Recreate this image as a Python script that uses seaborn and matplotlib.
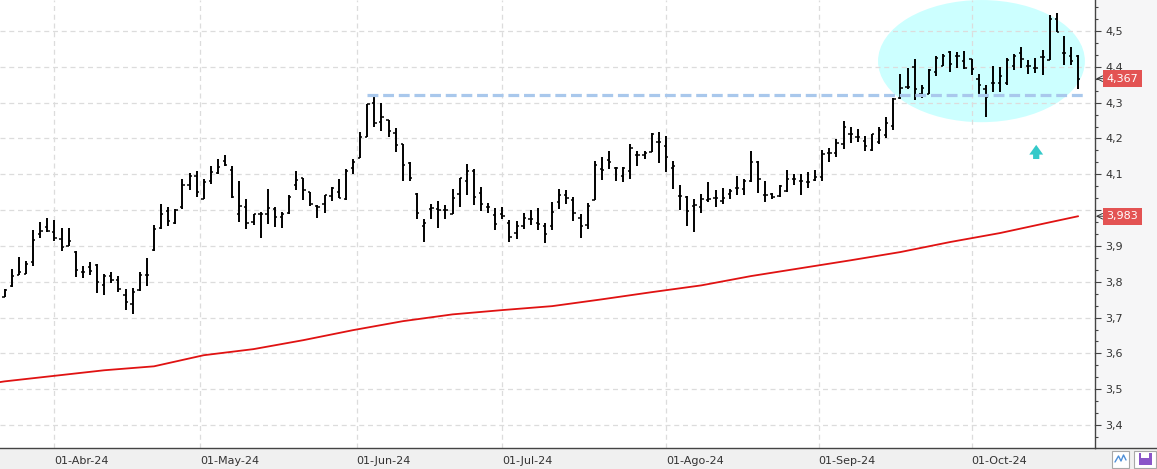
import numpy as np
import pandas as pd
import seaborn as sns
import matplotlib
matplotlib.use('Agg')
import matplotlib.pyplot as plt
from matplotlib.patches import Ellipse, Rectangle
from matplotlib.lines import Line2D
from matplotlib.ticker import MultipleLocator, AutoMinorLocator, FuncFormatter

# daily OHLC, one bar per trading day (late Mar 2024 -> 22 Oct 2024)
opens = [3.758, 3.788, 3.820, 3.822, 3.855, 3.932, 3.953, 3.939, 3.920, 3.900,
         3.884, 3.828, 3.842, 3.846, 3.790, 3.817, 3.805, 3.763, 3.737, 3.778,
         3.820, 3.889, 3.950, 3.998, 3.963, 4.008, 4.071, 4.095, 4.032, 4.080,
         4.103, 4.136, 4.111, 3.990, 4.008, 3.968, 3.988, 3.990, 4.003, 3.982,
         3.993, 4.069, 4.089, 4.050, 4.012, 4.018, 4.039, 4.052, 4.030, 4.119,
         4.146, 4.205, 4.300, 4.247, 4.251, 4.215, 4.185, 4.132, 4.045, 3.956,
         4.003, 4.003, 4.001, 3.988, 4.044, 4.082, 4.110, 4.049, 4.008, 3.986,
         3.989, 3.965, 3.935, 3.957, 3.975, 3.964, 3.956, 3.955, 4.023, 4.042,
         4.029, 3.979, 3.959, 4.029, 4.114, 4.139, 4.119, 4.095, 4.110, 4.154,
         4.155, 4.163, 4.189, 4.178, 4.119, 4.040, 4.038, 4.012, 4.008, 4.029,
         4.033, 4.026, 4.044, 4.062, 4.058, 4.080, 4.135, 4.042, 4.044, 4.040,
         4.053, 4.086, 4.080, 4.078, 4.084, 4.093, 4.159, 4.159, 4.184, 4.213,
         4.205, 4.193, 4.168, 4.190, 4.210, 4.235, 4.312, 4.344, 4.400, 4.324,
         4.323, 4.387, 4.403, 4.442, 4.429, 4.417, 4.421, 4.367, 4.339, 4.354,
         4.355, 4.356, 4.401, 4.439, 4.402, 4.397, 4.427, 4.418, 4.534, 4.438,
         4.431, 4.431]
highs = [3.780, 3.836, 3.870, 3.857, 3.945, 3.967, 3.978, 3.973, 3.949, 3.949,
         3.886, 3.843, 3.856, 3.850, 3.822, 3.828, 3.817, 3.781, 3.783, 3.827,
         3.866, 3.959, 4.018, 4.010, 4.003, 4.087, 4.105, 4.110, 4.088, 4.123,
         4.144, 4.153, 4.122, 4.081, 4.030, 3.990, 3.996, 4.058, 4.008, 3.996,
         4.043, 4.108, 4.090, 4.052, 4.014, 4.043, 4.064, 4.086, 4.114, 4.142,
         4.219, 4.297, 4.320, 4.300, 4.253, 4.230, 4.186, 4.133, 4.047, 3.975,
         4.018, 4.026, 4.015, 4.059, 4.090, 4.129, 4.116, 4.064, 4.019, 4.005,
         4.010, 3.973, 3.970, 3.991, 4.000, 4.005, 3.963, 4.023, 4.058, 4.056,
         4.037, 3.988, 4.019, 4.136, 4.147, 4.164, 4.120, 4.120, 4.186, 4.164,
         4.164, 4.216, 4.218, 4.207, 4.137, 4.070, 4.039, 4.031, 4.045, 4.079,
         4.056, 4.062, 4.058, 4.094, 4.086, 4.165, 4.136, 4.080, 4.047, 4.069,
         4.112, 4.101, 4.100, 4.107, 4.112, 4.168, 4.174, 4.199, 4.249, 4.231,
         4.226, 4.208, 4.213, 4.232, 4.261, 4.312, 4.379, 4.398, 4.423, 4.350,
         4.393, 4.429, 4.437, 4.444, 4.442, 4.445, 4.423, 4.379, 4.350, 4.401,
         4.400, 4.424, 4.437, 4.456, 4.419, 4.425, 4.447, 4.545, 4.551, 4.487,
         4.456, 4.433]
lows = [3.757, 3.786, 3.818, 3.822, 3.843, 3.921, 3.939, 3.913, 3.885, 3.900,
        3.814, 3.810, 3.819, 3.768, 3.763, 3.796, 3.771, 3.721, 3.711, 3.774,
        3.788, 3.887, 3.947, 3.957, 3.960, 4.003, 4.056, 4.038, 4.030, 4.074,
        4.100, 4.122, 4.035, 3.967, 3.948, 3.958, 3.923, 3.962, 3.953, 3.950,
        3.990, 4.056, 4.029, 4.012, 3.978, 3.993, 4.026, 4.033, 4.029, 4.102,
        4.146, 4.205, 4.232, 4.221, 4.205, 4.162, 4.082, 4.080, 3.974, 3.912,
        3.976, 3.951, 3.975, 3.988, 4.010, 4.041, 4.014, 3.997, 3.991, 3.944,
        3.976, 3.910, 3.920, 3.947, 3.958, 3.945, 3.907, 3.944, 4.004, 4.018,
        3.971, 3.921, 3.947, 4.028, 4.083, 4.116, 4.081, 4.078, 4.088, 4.122,
        4.144, 4.163, 4.131, 4.107, 4.058, 3.999, 3.957, 3.940, 3.991, 4.022,
        4.010, 4.016, 4.030, 4.043, 4.041, 4.078, 4.049, 4.024, 4.031, 4.036,
        4.050, 4.071, 4.043, 4.063, 4.080, 4.081, 4.133, 4.147, 4.172, 4.188,
        4.190, 4.164, 4.166, 4.185, 4.200, 4.225, 4.309, 4.339, 4.307, 4.312,
        4.323, 4.374, 4.402, 4.385, 4.397, 4.394, 4.376, 4.325, 4.260, 4.330,
        4.330, 4.350, 4.391, 4.397, 4.381, 4.382, 4.378, 4.418, 4.497, 4.405,
        4.406, 4.339]
closes = [3.778, 3.815, 3.828, 3.849, 3.918, 3.941, 3.943, 3.923, 3.897, 3.915,
          3.834, 3.828, 3.831, 3.800, 3.816, 3.804, 3.781, 3.744, 3.772, 3.818,
          3.820, 3.947, 3.990, 3.970, 4.000, 4.071, 4.095, 4.052, 4.078, 4.106,
          4.120, 4.125, 4.038, 4.011, 3.964, 3.990, 3.988, 4.005, 3.981, 3.990,
          4.036, 4.083, 4.055, 4.017, 4.008, 4.043, 4.061, 4.033, 4.109, 4.135,
          4.205, 4.295, 4.242, 4.259, 4.222, 4.181, 4.125, 4.089, 3.991, 3.964,
          4.005, 4.000, 3.999, 4.033, 4.089, 4.110, 4.037, 4.017, 4.008, 3.961,
          3.984, 3.924, 3.956, 3.979, 3.975, 3.961, 3.933, 3.995, 4.042, 4.033,
          3.993, 3.956, 4.012, 4.126, 4.111, 4.133, 4.119, 4.119, 4.173, 4.154,
          4.160, 4.213, 4.189, 4.147, 4.123, 4.040, 3.997, 4.014, 4.031, 4.031,
          4.033, 4.033, 4.054, 4.062, 4.081, 4.134, 4.086, 4.042, 4.038, 4.066,
          4.086, 4.086, 4.080, 4.078, 4.092, 4.157, 4.159, 4.188, 4.233, 4.213,
          4.205, 4.180, 4.212, 4.225, 4.243, 4.309, 4.342, 4.344, 4.338, 4.342,
          4.392, 4.424, 4.431, 4.409, 4.429, 4.397, 4.393, 4.348, 4.315, 4.354,
          4.375, 4.419, 4.431, 4.423, 4.402, 4.397, 4.427, 4.533, 4.497, 4.438,
          4.416, 4.367]

# 200-session moving average, read at every 7th session
ma_idx = [-1, 0, 14, 21, 28, 35, 42, 49, 56, 63, 70, 77, 84, 91, 98, 105,
          112, 119, 126, 133, 140, 147, 151]
ma_val = [3.519, 3.522, 3.553, 3.564, 3.595, 3.612, 3.637, 3.665, 3.690,
          3.709, 3.721, 3.732, 3.751, 3.771, 3.790, 3.816, 3.838, 3.860,
          3.883, 3.911, 3.936, 3.966, 3.983]

month_pos = [7, 27.5, 49.5, 70, 93, 114.5, 136]
month_labels = ['01-Abr-24', '01-May-24', '01-Jun-24', '01-Jul-24',
                '01-Ago-24', '01-Sep-24', '01-Oct-24']

resistance = 4.322
resistance_start = 51

df = pd.DataFrame({'open': opens, 'high': highs, 'low': lows, 'close': closes})
df['idx'] = np.arange(len(df))
ma = pd.DataFrame({'idx': ma_idx, 'ma': ma_val})

sns.set_style('white')
plt.rcParams['font.family'] = ['DejaVu Sans']

W, H = 1157, 469
fig = plt.figure(figsize=(W / 100, H / 100), dpi=100, facecolor='#f0f0f0')
# price-scale panel
fig.add_artist(Rectangle((1094.5 / W, 21 / H), 1 - 1094.5 / W, 1 - 21 / H,
                         fc='#f6f6f7', ec='none', zorder=0))
ax = fig.add_axes([0, 21 / H, 1094.5 / W, 448 / H])
ax.set_facecolor('white')

# highlight ellipse and arrow
ax.add_patch(Ellipse((137.4, 4.416), 29.1, 0.341, color='#ccffff', lw=0, zorder=0.2))
ax.annotate('', xy=(145.1, 4.19), xytext=(145.1, 4.135),
            arrowprops=dict(arrowstyle='simple,head_length=0.7,head_width=1.0,tail_width=0.45',
                            color='#35c9c9', lw=0), zorder=2)

# OHLC bars
ax.vlines(df['idx'], df['low'], df['high'], color='black', lw=1.4, zorder=3)
ax.hlines(df['open'], df['idx'] - 0.32, df['idx'], color='black', lw=1.1, zorder=3)
ax.hlines(df['close'], df['idx'], df['idx'] + 0.32, color='black', lw=1.1, zorder=3)

sns.lineplot(data=ma, x='idx', y='ma', color='#e01212', lw=1.3, ax=ax, zorder=3)

ax.hlines(resistance, resistance_start, len(df), color='#a9c8ec', lw=2.3,
          linestyles=(0, (3.4, 1.5)), zorder=4)

ax.set_xlim(-0.66, 153.3)
ax.set_ylim(3.336, 4.5866)


def price_fmt(v, _):
    # the 4,0 label sits behind the moving-average tag
    if abs(v - 4.0) < 1e-6:
        return ''
    return f'{v:.1f}'.replace('.', ',')


ax.yaxis.tick_right()
ax.yaxis.set_major_locator(MultipleLocator(0.1))
ax.yaxis.set_minor_locator(AutoMinorLocator(3))
ax.yaxis.set_major_formatter(FuncFormatter(price_fmt))
ax.set_xticks(month_pos, month_labels, ha='left')
ax.set_xlabel('')
ax.set_ylabel('')

ax.tick_params(axis='y', which='major', length=4.3, width=0.8, color='#444',
               pad=3.5, labelsize=8, labelcolor='#333')
ax.tick_params(axis='y', which='minor', length=2.3, width=0.8, color='#444')
ax.tick_params(axis='x', length=5.4, width=0.8, color='#444', pad=0.3,
               labelsize=8, labelcolor='#333')

ax.set_axisbelow(True)
ax.grid(True, which='major', color='#dcdcdc', linestyle=(0, (4, 3)), lw=0.9)

for s in ['top', 'left']:
    ax.spines[s].set_visible(False)
for s in ['right', 'bottom']:
    ax.spines[s].set_color('#444')
    ax.spines[s].set_linewidth(1)

# last-value tags on the price scale
for val, txt in [(closes[-1], '4,367'), (ma_val[-1], '3,983')]:
    ax.annotate(txt, xy=(1, val), xycoords=('axes fraction', 'data'),
                xytext=(12, 0), textcoords='offset pixels', ha='left', va='center',
                fontsize=8, color='white', annotation_clip=False, zorder=10,
                bbox=dict(boxstyle='square,pad=0.32', fc='#e35353', ec='none'))
    ax.annotate('', xy=(1, val), xycoords=('axes fraction', 'data'),
                xytext=(9, 0), textcoords='offset pixels', annotation_clip=False,
                arrowprops=dict(arrowstyle='->', color='#333', lw=0.7,
                                shrinkA=0, shrinkB=1))

# bottom strip line and small buttons
fig.add_artist(Line2D([1094.5 / W, 1], [21 / H, 21 / H], color='#444', lw=1))
fig.add_artist(Rectangle((1112 / W, 1.5 / H), 17 / W, 17 / H, fc='white',
                         ec='#a8a8a8', lw=0.8))
fig.add_artist(Line2D(np.array([1115, 1118.5, 1121, 1123.5, 1126]) / W,
                      np.array([7, 13, 8, 14, 9]) / H, color='#4f8fd8', lw=1))
fig.add_artist(Rectangle((1134 / W, 1.5 / H), 22 / W, 17 / H, fc='white',
                         ec='#a8a8a8', lw=0.8))
fig.add_artist(Rectangle((1138.5 / W, 4 / H), 13 / W, 12 / H, fc='#8a55c8', ec='none'))
fig.add_artist(Rectangle((1141 / W, 11 / H), 8 / W, 5 / H, fc='white', ec='none'))

fig.savefig('out.png', dpi=100, facecolor=fig.get_facecolor())
